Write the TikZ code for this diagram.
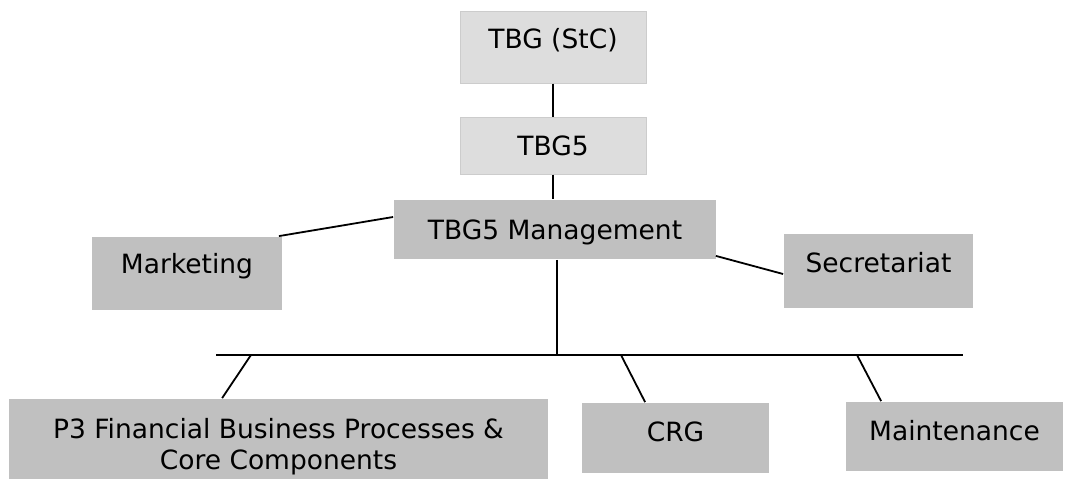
\documentclass[tikz,border=0pt]{standalone}
\usepackage{fontspec}
\setmainfont{DejaVu Sans}
\definecolor{unitgray}{HTML}{C0C0C0}
\definecolor{boardgray}{HTML}{DDDDDD}
\definecolor{boardedge}{HTML}{CCCCCC}
\begin{document}
\begin{tikzpicture}[x=1pt, y=-1pt, line width=1.8pt,
		every node/.style={fill=unitgray, inner sep=0pt, align=center, font=\fontsize{26.5}{31}\selectfont, text height=19pt, text depth=5pt},
		board/.style={fill=boardgray, draw=boardedge, line width=1pt}]
		\useasboundingbox (0,0) rectangle (1068,479);
		% boards
		\node[board, minimum width=186pt, minimum height=72pt, text depth=17pt] at (553,47) (StC) {TBG (StC)};
		\node[board, minimum width=186pt, minimum height=57pt, text depth=0pt] at (553,145.5) (TBG5) {TBG5};
		% units
		\node[minimum width=322pt, minimum height=59pt, text depth=0pt] at (555,229.5) (Mgmt) {TBG5 Management};
		\node[minimum width=190pt, minimum height=73pt, text depth=19pt] at (187,273.5) (Mkt) {Marketing};
		\node[minimum width=189pt, minimum height=74pt, text depth=16pt] at (878.5,271) (Sec) {Secretariat};
		\node[minimum width=539pt, minimum height=90pt, text height=50pt, text depth=0pt] at (278.5,444) (P3) {P3 Financial Business Processes \&\\Core Components};
		\node[minimum width=187pt, minimum height=70pt, text depth=12pt] at (675.5,438) (CRG) {CRG};
		\node[minimum width=217pt, minimum height=69pt, text depth=12pt] at (954.5,436.5) (Mnt) {Maintenance};
		% bus
		\coordinate (BusL) at (216,355);
		\coordinate (BusR) at (963,355);
		\coordinate (TapP3) at (251,355);
		\coordinate (TapCRG) at (621,355);
		\coordinate (TapMnt) at (857,355);
		% links
		\draw (StC.south) -- (TBG5.north);
		\draw (TBG5.south) -- (TBG5.south |- Mgmt.north);
		\draw ([xshift=-4pt]Mkt.north east) -- ([yshift=12.5pt]Mgmt.west);
		\draw ([xshift=-1pt, yshift=4pt]Mgmt.south east) -- ([yshift=-3pt]Sec.west);
		\draw ([xshift=2pt]Mgmt.south) -- ([xshift=2pt]Mgmt.south |- BusL);
		\draw (BusL) -- (BusR);
		\draw (TapP3) -- ([xshift=214pt]P3.north west);
		\draw (TapCRG) -- ([xshift=64pt]CRG.north west);
		\draw (TapMnt) -- ([xshift=36pt]Mnt.north west);
		\end{tikzpicture}
\end{document}
